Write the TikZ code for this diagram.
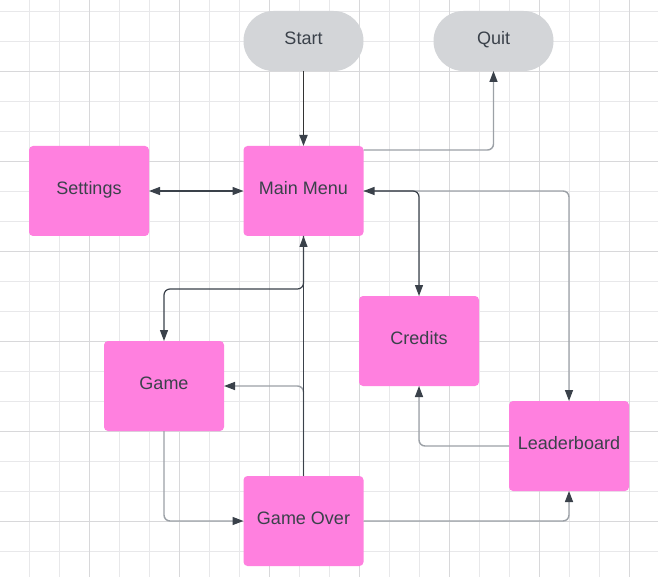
\documentclass[tikz,border=0pt]{standalone}
\usepackage{fontspec}
\setmainfont{Liberation Sans}
\usetikzlibrary{arrows.meta, positioning, calc}
\definecolor{BoxColor}{RGB}{255,128,223}
\definecolor{TermColor}{RGB}{211,213,216}
\definecolor{TextColor}{RGB}{58,65,74}
\definecolor{DarkLine}{RGB}{58,65,74}
\definecolor{GrayLine}{RGB}{156,161,167}
\definecolor{GridMinor}{RGB}{232,232,234}
\definecolor{GridMajor}{RGB}{216,216,218}
\tikzset{
  state/.style={rectangle, fill=BoxColor, rounded corners=4pt, minimum width=120pt, minimum height=90pt, inner sep=0pt, outer sep=0pt, text=TextColor, text height=13pt, text depth=6pt, font=\fontsize{18}{22}\selectfont},
  terminal/.style={rectangle, fill=TermColor, rounded corners=29.9pt, minimum width=120pt, minimum height=60pt, inner sep=0pt, outer sep=0pt, text=TextColor, text height=13pt, text depth=6pt, font=\fontsize{18}{22}\selectfont},
  darklink/.style={draw=DarkLine, line width=1.2pt, rounded corners=6pt},
  graylink/.style={draw=GrayLine, line width=1.4pt, rounded corners=6pt},
  >={Triangle[length=11pt, width=8pt, color=DarkLine]}
}
\begin{document}
\begin{tikzpicture}[x=1pt, y=-1pt]
  \useasboundingbox (0,0) rectangle (658,577);
  \fill[white] (0,0) rectangle (658,577);

  % Grid
  \foreach \x in {29.5,59.5,...,658} \draw[GridMinor, line width=0.8pt] (\x,0) -- (\x,577);
  \foreach \y in {11.5,41.5,...,577} \draw[GridMinor, line width=0.8pt] (0,\y) -- (658,\y);
  \foreach \x in {89.5,179.5,...,658} \draw[GridMajor, line width=0.9pt] (\x,0) -- (\x,577);
  \foreach \y in {71.5,161.5,...,577} \draw[GridMajor, line width=0.9pt] (0,\y) -- (658,\y);

  % Nodes
  \node[terminal] (start) at (303.5,41) {Start};
  \node[terminal] (quit) at (493.5,41) {Quit};
  \node[state] (settings) at (89,191) {Settings};
  \node[state] (mainmenu) at (303.5,191) {Main Menu};
  \node[state] (game) at (164,386) {Game};
  \node[state] (credits) at (419,341) {Credits};
  \node[state] (leaderboard) at (569,446) {Leaderboard};
  \node[state] (gameover) at (303.5,521) {Game Over};

  % Links
  \draw[graylink, ->] ([yshift=-4pt]mainmenu.north east) -| (quit.south);
  \draw[graylink, ->] (mainmenu.east) -| (leaderboard.north);
  \draw[graylink, ->] (gameover.north) |- (game.east);
  \draw[graylink, ->] (game.south) |- (gameover.west);
  \draw[graylink, ->] (gameover.east) -| (leaderboard.south);
  \draw[graylink, ->] (leaderboard.west) -| (credits.south);
  \draw[darklink, ->, draw=black!80, line width=1.8pt] (start) -- (mainmenu);
  \draw[darklink, <->] (settings) -- (mainmenu);
  \draw[darklink, <->] (mainmenu.east) -| (credits.north);
  \draw[darklink, ->] (mainmenu.south) -- ++(0,53) -| (game.north);
  \draw[darklink, ->] (gameover.north) -- (mainmenu.south);
\end{tikzpicture}
\end{document}
